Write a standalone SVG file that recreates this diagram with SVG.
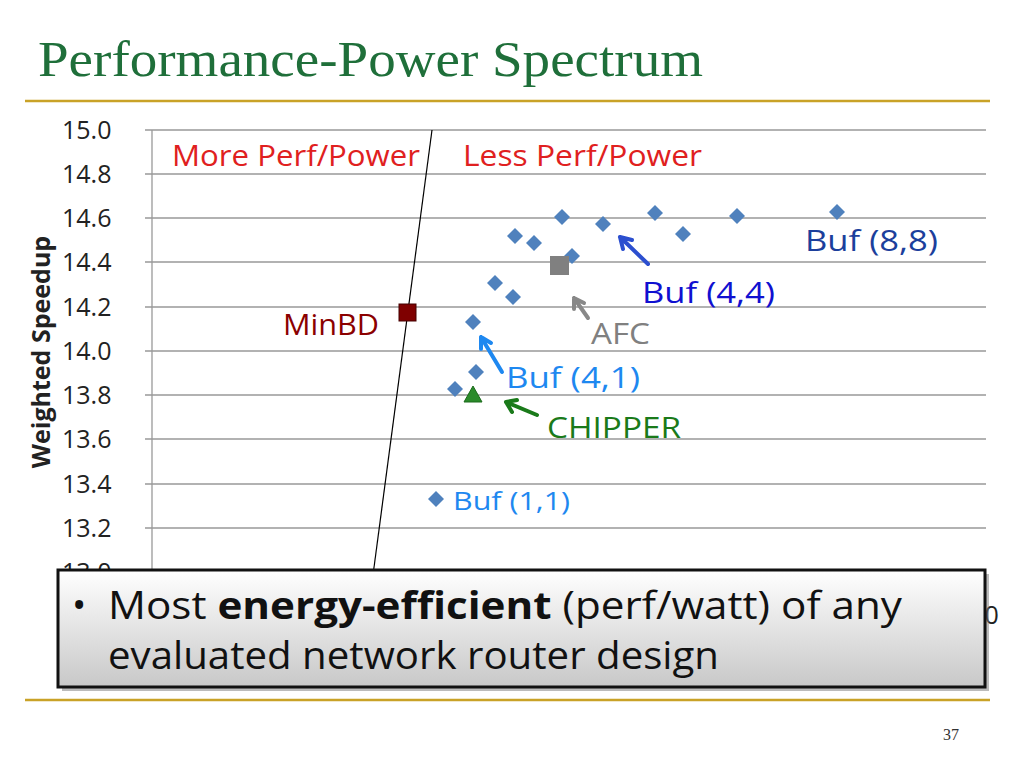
<svg xmlns="http://www.w3.org/2000/svg" width="1024" height="768" viewBox="0 0 1024 768">
<defs>
<style>
.t{font-family:"Open Sans","Liberation Sans",sans-serif}
.tk{font-family:"Open Sans","Liberation Sans",sans-serif;font-size:25px;fill:#222}
.g{stroke:#999;stroke-width:1.3}
.d{fill:#4f81bd}
</style>
<linearGradient id="bg" x1="0" y1="0" x2="0" y2="1"><stop offset="0" stop-color="#fff"/><stop offset="1" stop-color="#c8c8c8"/></linearGradient>
</defs>
<rect width="1024" height="768" fill="#fff"/>
<text x="38" y="76" font-family="Liberation Serif,serif" font-size="50" fill="#1f6f3a" textLength="665" lengthAdjust="spacingAndGlyphs">Performance-Power Spectrum</text>
<line x1="25" y1="101" x2="990" y2="101" stroke="#c9a227" stroke-width="2.5"/>
<line x1="25" y1="700" x2="990" y2="700" stroke="#c9a227" stroke-width="2.5"/>
<text x="951" y="740" font-family="Liberation Serif,serif" font-size="16" fill="#333" text-anchor="middle">37</text>
<g id="grid">
<line class="g" x1="145" y1="130" x2="986" y2="130"/><line class="g" x1="145" y1="174" x2="986" y2="174"/>
<line class="g" x1="145" y1="218" x2="986" y2="218"/><line class="g" x1="145" y1="262" x2="986" y2="262"/>
<line class="g" x1="145" y1="307" x2="986" y2="307"/><line class="g" x1="145" y1="351" x2="986" y2="351"/>
<line class="g" x1="145" y1="395" x2="986" y2="395"/><line class="g" x1="145" y1="439" x2="986" y2="439"/>
<line class="g" x1="145" y1="484" x2="986" y2="484"/><line class="g" x1="145" y1="528" x2="986" y2="528"/>
<line class="g" x1="145" y1="572" x2="986" y2="572"/>
<line class="g" x1="152" y1="130" x2="152" y2="572"/>
</g>
<g id="yticks">
<text class="tk" x="62" y="139">15.0</text><text class="tk" x="62" y="183">14.8</text>
<text class="tk" x="62" y="227">14.6</text><text class="tk" x="62" y="271">14.4</text>
<text class="tk" x="62" y="316">14.2</text><text class="tk" x="62" y="360">14.0</text>
<text class="tk" x="62" y="404">13.8</text><text class="tk" x="62" y="448">13.6</text>
<text class="tk" x="62" y="493">13.4</text><text class="tk" x="62" y="537">13.2</text>
<text class="tk" x="62" y="581">13.0</text>
<text class="tk" x="978" y="624">.0</text>
</g>
<text transform="translate(50,352) rotate(-90)" text-anchor="middle" font-family="Open Sans,Liberation Sans,sans-serif" font-weight="bold" font-size="25" fill="#222">Weighted Speedup</text>
<line x1="432" y1="130" x2="373" y2="575" stroke="#000" stroke-width="1.2"/>
<text class="t" x="172" y="166" font-size="29" fill="#e02020" textLength="248" lengthAdjust="spacingAndGlyphs">More Perf/Power</text>
<text class="t" x="463" y="166" font-size="29" fill="#e02020" textLength="239" lengthAdjust="spacingAndGlyphs">Less Perf/Power</text>
<g id="points">
<g class="d">
<path d="M515,228l8,8-8,8-8-8z"/><path d="M534,235l8,8-8,8-8-8z"/><path d="M562,209l8,8-8,8-8-8z"/>
<path d="M603,216l8,8-8,8-8-8z"/><path d="M655,205l8,8-8,8-8-8z"/><path d="M683,226l8,8-8,8-8-8z"/>
<path d="M737,208l8,8-8,8-8-8z"/><path d="M837,204l8,8-8,8-8-8z"/><path d="M572,248l8,8-8,8-8-8z"/>
<path d="M495,275l8,8-8,8-8-8z"/><path d="M513,289l8,8-8,8-8-8z"/><path d="M473,314l8,8-8,8-8-8z"/>
<path d="M476,364l8,8-8,8-8-8z"/><path d="M455,381l8,8-8,8-8-8z"/><path d="M436,491l8,8-8,8-8-8z"/>
</g>
<rect x="550" y="256" width="19" height="19" fill="#808080"/>
<rect x="399" y="304" width="17" height="17" fill="#7f0000" stroke="#400" stroke-width="1"/>
<path d="M473,386l9,16h-18z" fill="#2a8a2a" stroke="#1a6a1a"/>
</g>
<g id="connectors" stroke-width="4" fill="none" stroke-linecap="round">
<path d="M648,264L620,237M620,237l3,12M620,237l12,3" stroke="#2c4fcf"/>
<path d="M588,318L574,298M574,298l0,11M574,298l10,5" stroke="#888"/>
<path d="M502,372L481,337M481,337l0,12M481,337l10,6" stroke="#1e88f0"/>
<path d="M537,415L506,402M506,402l6,10M506,402l11,-2" stroke="#1a7a1a"/>
</g>
<g id="labels">
<text class="t" x="805" y="251" font-size="29" fill="#1c3f9c" textLength="133" lengthAdjust="spacingAndGlyphs">Buf (8,8)</text>
<text class="t" x="642" y="303" font-size="29" fill="#1010d0" textLength="133" lengthAdjust="spacingAndGlyphs">Buf (4,4)</text>
<text class="t" x="591" y="344" font-size="29" fill="#808080" textLength="59" lengthAdjust="spacingAndGlyphs">AFC</text>
<text class="t" x="283" y="335" font-size="29" fill="#8b0000" textLength="96" lengthAdjust="spacingAndGlyphs">MinBD</text>
<text class="t" x="506" y="388" font-size="29" fill="#1e88f0" textLength="134" lengthAdjust="spacingAndGlyphs">Buf (4,1)</text>
<text class="t" x="547" y="438" font-size="29" fill="#1a7a1a" textLength="134" lengthAdjust="spacingAndGlyphs">CHIPPER</text>
<text class="t" x="453" y="510" font-size="25" fill="#1e88f0" textLength="117" lengthAdjust="spacingAndGlyphs">Buf (1,1)</text>
</g>
<g id="callout">
<rect x="62" y="574" width="927" height="117" fill="#777" opacity="0.5"/>
<rect x="58" y="570" width="927" height="117" fill="url(#bg)" stroke="#111" stroke-width="3"/>
<text font-family="Open Sans,Liberation Sans,sans-serif" font-size="38" fill="#111"><tspan x="72" y="619">•</tspan></text>
<text x="108" y="619" font-family="Open Sans,Liberation Sans,sans-serif" font-size="38" fill="#111" textLength="794" lengthAdjust="spacingAndGlyphs">Most <tspan font-weight="bold">energy-efficient</tspan> (perf/watt) of any</text>
<text x="108" y="669" font-family="Open Sans,Liberation Sans,sans-serif" font-size="38" fill="#111" textLength="611" lengthAdjust="spacingAndGlyphs">evaluated network router design</text>
</g>
</svg>
